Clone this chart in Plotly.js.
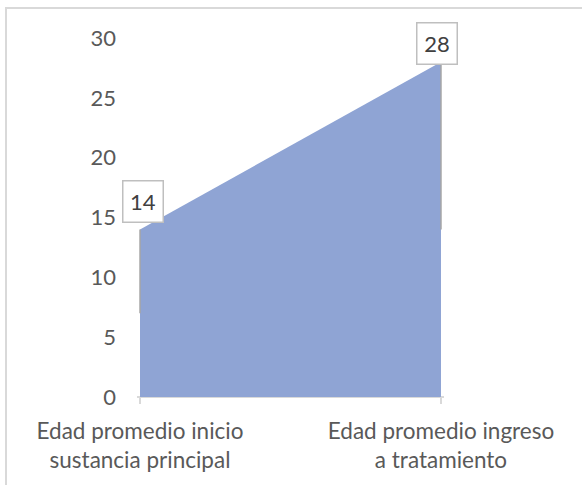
<!DOCTYPE html>
<html><head><meta charset="utf-8">
<script src="https://cdn.plot.ly/plotly-3.0.1.min.js"></script>
<style>html,body{margin:0;padding:0;background:#fff;}#chart{width:582px;height:485px;}</style>
</head><body><div id="chart"></div>
<script>
const categories = ["Edad promedio inicio<br>sustancia principal", "Edad promedio ingreso<br>a tratamiento"];
const values = [14, 28];
const labels = ["14", "28"];
const yTicks = [0, 5, 10, 15, 20, 25, 30];

const FONT = "Lato, 'Open Sans', sans-serif";
const labelShift = [{x: 3, y: 6}, {x: -4, y: -3}];

const trace = {
  type: "scatter", mode: "lines", x: [0, 1], y: values,
  fill: "tozeroy", fillcolor: "#8FA4D4", line: {width: 0, color: "#8FA4D4"},
  hoverinfo: "skip"
};

const pad = 0.01;
const unit = 301;
const shapes = [
  {type: "rect", xref: "paper", yref: "paper", x0: (6 - 137) / (unit * (1 + 2 * pad)), x1: 3, y0: -3, y1: (397 - 8) / 359,
   line: {color: "#D9D9D9", width: 2}, fillcolor: "rgba(0,0,0,0)", layer: "below"}
];
values.forEach((v, i) => {
  shapes.push({type: "line", xref: "x", yref: "y", x0: i, x1: i, y0: v, y1: v / 2,
    line: {color: "#A6A6A6", width: 1.5}, layer: "above"});
});

const annotations = values.map((v, i) => ({
  x: i, y: v, xref: "x", yref: "y", text: labels[i], showarrow: false,
  yanchor: "bottom", xanchor: "center", xshift: labelShift[i].x, yshift: labelShift[i].y,
  bgcolor: "#ffffff", bordercolor: "#BFBFBF", borderwidth: 1.5, borderpad: 4,
  width: 31, height: 32, font: {family: FONT, size: 22, color: "#404040"}
}));

const layout = {
  width: 582, height: 485, paper_bgcolor: "#fff", plot_bgcolor: "#fff",
  margin: {l: 137, r: 138, t: 38, b: 88},
  showlegend: false,
  font: {family: FONT, size: 22, color: "#595959"},
  xaxis: {range: [-pad, 1 + pad], tickvals: [0, 1], ticktext: categories, showgrid: false, zeroline: false,
    showline: false, ticks: "outside", ticklen: 6, tickcolor: "#D9D9D9", tickwidth: 1.5,
    ticklabelstandoff: 8,
    tickfont: {family: FONT, size: 22.5, color: "#595959"}, fixedrange: true},
  yaxis: {range: [0, 30], tickvals: yTicks, ticktext: yTicks.map(String), showgrid: false,
    zeroline: true, zerolinecolor: "#D9D9D9", zerolinewidth: 1.5, showline: false, ticks: "",
    ticklabelstandoff: 20, tickfont: {family: FONT, size: 22, color: "#595959"}, fixedrange: true},
  shapes: shapes, annotations: annotations
};

Plotly.newPlot("chart", [trace], layout, {displayModeBar: false, staticPlot: true});
</script></body></html>
